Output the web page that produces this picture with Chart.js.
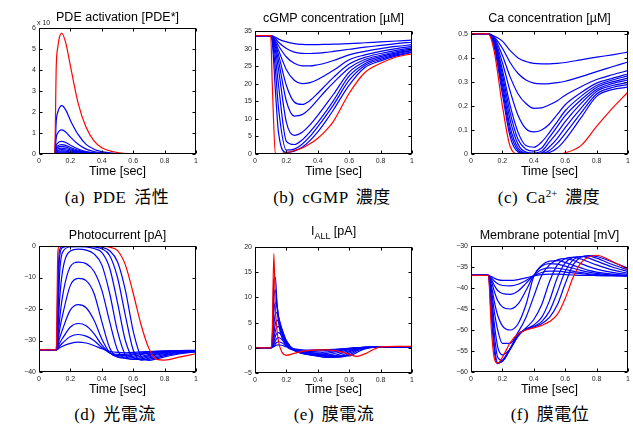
<!DOCTYPE html>
<html>
<head>
<meta charset="utf-8">
<script src="https://cdn.jsdelivr.net/npm/chart.js@4"></script>
<style>
  body { margin: 0; width: 633px; height: 425px; background: #fff; position: relative; overflow: hidden;
         font-family: "Liberation Sans", Arial, sans-serif; }
  canvas { position: absolute; }
  .t { position: absolute; transform: translate(-50%, -50%); white-space: nowrap; color: #000; line-height: 1; }
  .ttl { font-size: 12.5px; }
  .xl { font-size: 12.5px; }
  .cap { font-family: "Liberation Serif", "Noto Sans CJK JP", serif; font-size: 17px; letter-spacing: 0.5px; word-spacing: 3px; }
  .cap sup { font-size: 11px; letter-spacing: 0; }
  .ttl sub { font-size: 9px; }
  .exp { position: absolute; font-size: 7px; color: #262626; }
</style>
</head>
<body>
<canvas id="pde"></canvas>
<canvas id="cgmp"></canvas>
<canvas id="ca"></canvas>
<canvas id="photo"></canvas>
<canvas id="iall"></canvas>
<canvas id="vm"></canvas>

<div class="t ttl" style="left:117.5px;top:17px">PDE activation [PDE*]</div>
<div class="t ttl" style="left:333.5px;top:18px">cGMP concentration [µM]</div>
<div class="t ttl" style="left:549.5px;top:18px">Ca concentration [µM]</div>
<div class="t ttl" style="left:117.5px;top:235px">Photocurrent [pA]</div>
<div class="t ttl" style="left:333.5px;top:233px">I<sub>ALL</sub> [pA]</div>
<div class="t ttl" style="left:549.5px;top:235px">Membrane potential [mV]</div>
<div class="exp" style="left:37px;top:19px">x 10</div>

<div class="t xl" style="left:117.5px;top:171px">Time [sec]</div>
<div class="t xl" style="left:333.5px;top:171px">Time [sec]</div>
<div class="t xl" style="left:549.5px;top:171px">Time [sec]</div>
<div class="t xl" style="left:117.5px;top:389px">Time [sec]</div>
<div class="t xl" style="left:333.5px;top:389px">Time [sec]</div>
<div class="t xl" style="left:549.5px;top:389px">Time [sec]</div>

<div class="t cap" style="left:117px;top:197px">(a) PDE 活性</div>
<div class="t cap" style="left:332px;top:197px">(b) cGMP 濃度</div>
<div class="t cap" style="left:549px;top:197px">(c) Ca<sup>2+</sup> 濃度</div>
<div class="t cap" style="left:115px;top:414px">(d) 光電流</div>
<div class="t cap" style="left:334px;top:414px">(e) 膜電流</div>
<div class="t cap" style="left:550px;top:414px">(f) 膜電位</div>

<script>
// (a) PDE activation (x 10^4)
const timePde = [0, 0.1, 0.11, 0.12, 0.13, 0.145, 0.17, 0.2, 0.25, 0.3, 0.35, 0.4, 0.5, 0.6, 1];
const pdeRed = [0, 0, 4.2, 5.1, 5.55, 5.75, 5.3, 4.2, 2.4, 1.27, 0.63, 0.3, 0.07, 0.02, 0];
const pdeBlue = [
  [0, 0, 0.04, 0.05, 0.058, 0.06, 0.055, 0.04, 0.024, 0.012, 0.006, 0.003, 0, 0, 0],
  [0, 0, 0.07, 0.087, 0.096, 0.1, 0.09, 0.07, 0.04, 0.02, 0.01, 0.005, 0, 0, 0],
  [0, 0, 0.1, 0.13, 0.14, 0.15, 0.14, 0.1, 0.06, 0.03, 0.015, 0.008, 0, 0, 0],
  [0, 0, 0.15, 0.18, 0.2, 0.21, 0.19, 0.15, 0.085, 0.042, 0.021, 0.01, 0, 0, 0],
  [0, 0, 0.2, 0.24, 0.27, 0.28, 0.25, 0.2, 0.11, 0.056, 0.028, 0.014, 0, 0, 0],
  [0, 0, 0.25, 0.31, 0.35, 0.36, 0.33, 0.25, 0.14, 0.07, 0.036, 0.018, 0, 0, 0],
  [0, 0, 0.31, 0.39, 0.43, 0.45, 0.41, 0.31, 0.18, 0.09, 0.045, 0.02, 0, 0, 0],
  [0, 0, 0.42, 0.52, 0.58, 0.6, 0.55, 0.42, 0.24, 0.12, 0.06, 0.03, 0.01, 0, 0],
  [0, 0, 0.8, 1.0, 1.1, 1.15, 1.05, 0.8, 0.46, 0.23, 0.12, 0.06, 0.01, 0, 0],
  [0, 0, 1.6, 2.0, 2.2, 2.3, 2.1, 1.6, 0.92, 0.46, 0.23, 0.11, 0.02, 0, 0]
];

// (b) cGMP concentration [uM]
const timeCgmp = [0, 0.1, 0.11, 0.13, 0.15, 0.2, 0.25, 0.3, 0.35, 0.4, 0.45, 0.5, 0.6, 0.7, 0.8, 0.9, 1.0];
const cgmpRed = [33.7, 33.7, 20.0, 0.2, 0.05, 0.4, 1.0, 1.7, 2.9, 4.5, 6.6, 9.3, 17.3, 23.2, 25.8, 27.6, 28.5];
const cgmpBlue = [
  [33.7, 33.7, 33.6, 33.2, 32.7, 31.9, 31.4, 31.2, 31.15, 31.15, 31.2, 31.25, 31.4, 31.65, 31.9, 32.15, 32.4],
  [33.7, 33.7, 33.5, 32.8, 31.8, 30.0, 29.0, 28.65, 28.6, 28.7, 28.9, 29.2, 29.8, 30.4, 30.9, 31.4, 31.8],
  [33.7, 33.7, 33.4, 32.3, 30.8, 27.6, 25.8, 25.1, 25.05, 25.4, 25.9, 26.6, 28.2, 29.2, 30.0, 30.6, 31.1],
  [33.7, 33.7, 33.3, 31.8, 29.5, 24.0, 21.0, 20.05, 20.3, 21.2, 22.5, 23.8, 26.8, 28.2, 29.2, 30.0, 30.6],
  [33.7, 33.7, 33.2, 31.2, 28.2, 19.5, 14.8, 14.1, 15.2, 17.3, 19.6, 21.8, 25.6, 27.5, 28.6, 29.5, 30.2],
  [33.7, 33.7, 33.1, 30.5, 26.5, 15.0, 10.8, 11.2, 13.0, 15.5, 18.0, 20.3, 24.5, 26.9, 28.1, 29.1, 29.9],
  [33.7, 33.7, 33.0, 29.5, 24.0, 9.0, 5.3, 6.2, 8.3, 11.0, 14.0, 17.0, 23.3, 26.3, 27.7, 28.8, 29.6],
  [33.7, 33.7, 32.8, 27.5, 19.5, 3.6, 2.7, 4.0, 6.3, 9.0, 12.0, 15.2, 22.2, 25.7, 27.3, 28.5, 29.4],
  [33.7, 33.7, 32.5, 24.0, 13.0, 1.1, 1.4, 2.8, 5.0, 7.8, 10.8, 14.0, 21.0, 25.2, 26.9, 28.2, 29.1],
  [33.7, 33.7, 32.0, 18.0, 6.0, 0.4, 0.8, 1.9, 3.8, 6.3, 9.3, 12.6, 19.6, 24.6, 26.5, 27.9, 28.9]
];

// (c) Ca concentration [uM]
const timeCa = [0, 0.11, 0.15, 0.2, 0.25, 0.3, 0.35, 0.4, 0.45, 0.5, 0.55, 0.6, 0.7, 0.8, 0.9, 1.0];
const caRed = [0.5, 0.5, 0.42, 0.2, 0.03, 0.001, 0, 0, 0, 0, 0, 0.005, 0.035, 0.115, 0.19, 0.258];
const caBlue = [
  [0.5, 0.5, 0.49, 0.47, 0.43, 0.40, 0.385, 0.377, 0.375, 0.375, 0.377, 0.381, 0.392, 0.403, 0.413, 0.424],
  [0.5, 0.5, 0.485, 0.44, 0.38, 0.335, 0.308, 0.295, 0.292, 0.293, 0.297, 0.303, 0.322, 0.343, 0.363, 0.383],
  [0.5, 0.5, 0.48, 0.41, 0.32, 0.25, 0.21, 0.19, 0.192, 0.205, 0.222, 0.245, 0.28, 0.31, 0.33, 0.347],
  [0.5, 0.5, 0.475, 0.38, 0.26, 0.16, 0.105, 0.092, 0.1, 0.125, 0.165, 0.205, 0.255, 0.295, 0.315, 0.333],
  [0.5, 0.5, 0.47, 0.35, 0.2, 0.09, 0.035, 0.028, 0.05, 0.09, 0.135, 0.18, 0.24, 0.285, 0.308, 0.325],
  [0.5, 0.5, 0.465, 0.33, 0.17, 0.06, 0.02, 0.012, 0.025, 0.07, 0.115, 0.16, 0.225, 0.277, 0.3, 0.316],
  [0.5, 0.5, 0.46, 0.31, 0.14, 0.04, 0.008, 0.004, 0.012, 0.05, 0.09, 0.135, 0.21, 0.268, 0.293, 0.308],
  [0.5, 0.5, 0.455, 0.29, 0.11, 0.025, 0.003, 0.001, 0.005, 0.03, 0.065, 0.11, 0.19, 0.26, 0.285, 0.298],
  [0.5, 0.5, 0.45, 0.27, 0.09, 0.015, 0.001, 0, 0.002, 0.015, 0.045, 0.085, 0.17, 0.25, 0.277, 0.289],
  [0.5, 0.5, 0.44, 0.25, 0.07, 0.008, 0, 0, 0, 0.006, 0.025, 0.06, 0.15, 0.24, 0.268, 0.278]
];

// (d) Photocurrent [pA]
const timePhoto = [0, 0.11, 0.12, 0.13, 0.15, 0.2, 0.25, 0.3, 0.35, 0.4, 0.45, 0.5, 0.55, 0.6, 0.65, 0.7, 0.75, 0.8, 0.9, 1.0];
const photoRed = [-33, -33, -2, -0.05, 0, 0, 0, 0, 0, -0.1, -0.4, -1.5, -6, -15, -25, -32.5, -36, -36.2, -35.2, -34.2];
const photoBlue = [
  [-33, -33, -32.8, -32.4, -31.8, -30.9, -30.5, -30.8, -31.6, -32.6, -33.4, -33.8, -33.9, -33.8, -33.6, -33.5, -33.4, -33.3, -33.2, -33.1],
  [-33, -33, -32.6, -31.9, -30.8, -28.7, -28.1, -28.6, -30.0, -32.2, -33.9, -34.4, -34.4, -34.2, -33.9, -33.7, -33.5, -33.4, -33.3, -33.2],
  [-33, -33, -32.3, -31, -29.3, -25.7, -24.6, -25.3, -27.8, -31.4, -34.0, -34.8, -34.8, -34.5, -34.2, -33.9, -33.7, -33.5, -33.3, -33.2],
  [-33, -33, -31.8, -29.5, -26.5, -20.3, -18.6, -19.6, -23.5, -29.5, -33.8, -35.2, -35.3, -35.0, -34.5, -34.1, -33.8, -33.6, -33.4, -33.2],
  [-33, -33, -31, -27, -22, -12.5, -10.3, -11, -15, -24, -32.3, -35.2, -35.6, -35.4, -35, -34.5, -34.1, -33.8, -33.5, -33.3],
  [-33, -33, -30, -24, -16, -6.5, -5.1, -5.6, -8, -14, -24, -33, -35.7, -35.9, -35.4, -34.8, -34.3, -34.0, -33.6, -33.3],
  [-33, -33, -28, -18, -8, -1.6, -1.0, -1.3, -2.5, -6, -15, -27, -34.5, -36, -35.8, -35.2, -34.6, -34.2, -33.7, -33.4],
  [-33, -33, -25, -10, -2, -0.3, -0.2, -0.3, -0.8, -2, -7, -18, -30, -35.5, -36.1, -35.6, -35, -34.5, -33.8, -33.4],
  [-33, -33, -20, -4, -0.5, -0.05, -0.02, -0.05, -0.3, -0.9, -3, -10, -22, -33, -36.2, -36, -35.4, -34.8, -34, -33.5],
  [-33, -33, -12, -1.5, -0.1, 0, 0, 0, -0.1, -0.4, -1.5, -5, -14, -27, -35, -36.3, -35.8, -35.2, -34.2, -33.6]
];

// (e) I_ALL [pA]
const timeIall = [0, 0.1, 0.11, 0.12, 0.13, 0.14, 0.15, 0.17, 0.2, 0.25, 0.3, 0.35, 0.4, 0.45, 0.5, 0.55, 0.6, 0.65, 0.7, 0.8, 0.9, 1.0];
const iallRed = [0, 0, 3, 18.7, 7.8, 3.5, 1.2, -0.8, -1.5, -1.1, -0.7, -0.5, -0.4, -0.4, -0.5, -0.8, -1.3, -1.7, -1.2, 0.2, 0.3, 0.3];
const iallBlue = [
  [0, 0, 0.05, 0.2, 0.4, 0.55, 0.6, 0.5, 0.2, -0.2, -0.4, -0.45, -0.4, -0.35, -0.3, -0.2, -0.1, 0, 0.1, 0.2, 0.15, 0.1],
  [0, 0, 0.1, 0.4, 0.8, 1.1, 1.2, 1.0, 0.4, -0.3, -0.6, -0.7, -0.65, -0.55, -0.4, -0.25, -0.1, 0, 0.1, 0.2, 0.15, 0.1],
  [0, 0, 0.2, 0.7, 1.4, 1.9, 2.0, 1.7, 0.7, -0.4, -0.8, -1.0, -1.0, -0.85, -0.6, -0.35, -0.15, 0, 0.1, 0.2, 0.15, 0.1],
  [0, 0, 0.3, 1.2, 2.3, 2.9, 3.0, 2.4, 1.0, -0.5, -1.0, -1.25, -1.3, -1.15, -0.85, -0.5, -0.2, 0, 0.1, 0.2, 0.15, 0.1],
  [0, 0, 0.4, 1.8, 3.4, 4.1, 4.2, 3.2, 1.3, -0.5, -1.1, -1.4, -1.55, -1.5, -1.2, -0.75, -0.35, -0.05, 0.1, 0.2, 0.15, 0.1],
  [0, 0, 0.6, 2.8, 4.8, 5.5, 5.2, 3.7, 1.4, -0.5, -1.1, -1.4, -1.65, -1.8, -1.6, -1.1, -0.55, -0.15, 0.05, 0.2, 0.15, 0.1],
  [0, 0, 0.8, 4.5, 6.7, 7.0, 6.0, 3.9, 1.3, -0.5, -1.0, -1.3, -1.6, -1.9, -1.9, -1.5, -0.8, -0.25, 0.05, 0.2, 0.15, 0.1],
  [0, 0, 1.1, 7, 9, 8.2, 6.3, 3.6, 1.0, -0.5, -0.9, -1.2, -1.45, -1.7, -1.85, -1.75, -1.1, -0.4, 0, 0.2, 0.15, 0.1],
  [0, 0, 1.5, 10, 11.5, 8.8, 6.0, 3.0, 0.7, -0.5, -0.8, -1.1, -1.3, -1.5, -1.7, -1.8, -1.4, -0.6, -0.05, 0.2, 0.15, 0.1],
  [0, 0, 2, 13.5, 14, 8.5, 5.0, 2.2, 0.3, -0.5, -0.7, -0.95, -1.15, -1.35, -1.5, -1.6, -1.6, -0.9, -0.2, 0.2, 0.15, 0.1]
];

// (f) Membrane potential [mV]
const timeVm = [0, 0.11, 0.13, 0.15, 0.17, 0.2, 0.25, 0.3, 0.35, 0.4, 0.45, 0.5, 0.55, 0.6, 0.65, 0.7, 0.75, 0.8, 0.9, 1.0];
const vmRed = [-37, -37, -50, -57, -57.9, -56.5, -53, -50.9, -50, -49.5, -48.9, -48, -46.3, -42.5, -37.5, -34, -32.6, -32.2, -33.7, -35.6];
const vmBlue = [
  [-37, -37, -37.3, -37.7, -38, -38.2, -38.2, -38, -37.6, -37.1, -36.8, -36.7, -36.7, -36.8, -36.9, -37, -37, -37.05, -37.1, -37.1],
  [-37, -37, -37.6, -38.4, -39, -39.4, -39.5, -39.1, -38.2, -37.1, -36.3, -36.0, -36.0, -36.2, -36.4, -36.6, -36.8, -36.9, -37.0, -37.1],
  [-37, -37, -38, -39.5, -40.6, -41.3, -41.5, -40.7, -38.9, -37.0, -35.6, -35.2, -35.3, -35.6, -36.0, -36.3, -36.6, -36.8, -37.0, -37.1],
  [-37, -37, -38.5, -41, -43, -44.5, -45, -43.8, -40.6, -37.0, -34.8, -34.2, -34.3, -34.8, -35.3, -35.8, -36.2, -36.5, -36.9, -37.1],
  [-37, -37, -39.5, -43.5, -46.5, -49, -50, -48.5, -44, -37.2, -34.6, -33.6, -33.5, -33.9, -34.6, -35.2, -35.8, -36.2, -36.7, -37.0],
  [-37, -37, -40.5, -46, -50, -53.2, -53.2, -50.5, -47, -42, -37, -34.5, -33.3, -33, -33.4, -34.2, -34.9, -35.5, -36.3, -36.8],
  [-37, -37, -42, -49, -54, -55.9, -54.5, -51.5, -49.5, -47.5, -44, -38.5, -34.5, -33, -32.7, -33.1, -33.8, -34.5, -35.7, -36.5],
  [-37, -37, -43, -51.5, -56.5, -57.3, -54.5, -51.2, -49.8, -48.8, -47, -43, -37.5, -34, -32.7, -32.5, -32.9, -33.6, -35.0, -36.1],
  [-37, -37, -45, -54, -57.8, -57.5, -54.5, -51.1, -49.9, -49.2, -48, -45.5, -41, -36, -33.3, -32.5, -32.4, -32.9, -34.4, -35.7],
  [-37, -37, -47, -55.5, -58, -57.2, -54.4, -51, -49.9, -49.3, -48.5, -47, -44, -39, -34.5, -32.7, -32.3, -32.5, -33.8, -35.3]
];

const tickFont = { family: "'Liberation Sans', Arial, sans-serif", size: 7 };
const tickColor = "#262626";
const fmt = (v) => String(Math.round(v * 1000) / 1000).replace("-", "\u2212");

// MATLAB style box with inward ticks on all four sides
const framePlugin = {
  id: "frame",
  afterDatasetsDraw(chart) {
    const { ctx, chartArea: a, scales } = chart;
    const L = Math.round(a.left) + 0.5, R = Math.round(a.right) - 0.5;
    const T = Math.round(a.top) + 0.5, B = Math.round(a.bottom) - 0.5;
    ctx.save();
    ctx.strokeStyle = "#000";
    ctx.lineWidth = 1;
    ctx.beginPath();
    scales.x.ticks.forEach((t) => {
      const p = Math.round(scales.x.getPixelForValue(t.value)) + 0.5;
      ctx.moveTo(p, B); ctx.lineTo(p, B - 3);
      ctx.moveTo(p, T); ctx.lineTo(p, T + 3);
    });
    scales.y.ticks.forEach((t) => {
      const p = Math.round(scales.y.getPixelForValue(t.value)) + 0.5;
      ctx.moveTo(L, p); ctx.lineTo(L + 3, p);
      ctx.moveTo(R, p); ctx.lineTo(R - 3, p);
    });
    ctx.stroke();
    ctx.strokeRect(L, T, R - L, B - T);
    ctx.restore();
  },
};

function drawPanel(id, box, times, blue, red, yMin, yMax, yStep) {
  const cv = document.getElementById(id);
  const w = box.r - box.l, h = box.b - box.t;
  cv.width = w + 38;
  cv.height = h + 22;
  cv.style.left = box.l - 30 + "px";
  cv.style.top = box.t - 8 + "px";

  const line = (vals, color) => ({
    data: times.map((x, i) => ({ x: x, y: vals[i] })),
    borderColor: color,
    borderWidth: 1.2,
    pointRadius: 0,
    cubicInterpolationMode: "monotone",
    fill: false,
  });
  // first dataset is painted last, so red stays on top
  const datasets = [line(red, "#ff0000")].concat(blue.map((v) => line(v, "#0000ff")));

  new Chart(cv, {
    type: "line",
    data: { datasets },
    options: {
      responsive: false,
      animation: false,
      events: [],
      layout: { padding: { left: 0, top: 8, right: 8, bottom: 0 } },
      plugins: { legend: { display: false }, tooltip: { enabled: false } },
      scales: {
        x: {
          type: "linear", min: 0, max: 1,
          grid: { display: false, drawTicks: false },
          border: { display: false },
          ticks: { stepSize: 0.2, padding: 3, font: tickFont, color: tickColor,
                   maxRotation: 0, includeBounds: false, callback: fmt },
          afterFit: (s) => { s.height = 14; },
        },
        y: {
          type: "linear", min: yMin, max: yMax,
          grid: { display: false, drawTicks: false },
          border: { display: false },
          ticks: { stepSize: yStep, padding: 3, font: tickFont, color: tickColor,
                   includeBounds: false, callback: fmt },
          afterFit: (s) => { s.width = 30; },
        },
      },
    },
    plugins: [framePlugin],
  });
}

drawPanel("pde",   { l: 39,  r: 196, t: 28,  b: 154 }, timePde,   pdeBlue,   pdeRed,   0,   6,     1);
drawPanel("cgmp",  { l: 255, r: 412, t: 31,  b: 154 }, timeCgmp,  cgmpBlue,  cgmpRed,  0,   35,    5);
drawPanel("ca",    { l: 471, r: 628, t: 31,  b: 154 }, timeCa,    caBlue,    caRed,    0,   0.512, 0.1);
drawPanel("photo", { l: 39,  r: 196, t: 246, b: 372 }, timePhoto, photoBlue, photoRed, -40, 0,     10);
drawPanel("iall",  { l: 255, r: 412, t: 247, b: 373 }, timeIall,  iallBlue,  iallRed,  -5,  20,    5);
drawPanel("vm",    { l: 471, r: 628, t: 246, b: 372 }, timeVm,    vmBlue,    vmRed,    -60, -30,   5);
</script>
</body>
</html>
